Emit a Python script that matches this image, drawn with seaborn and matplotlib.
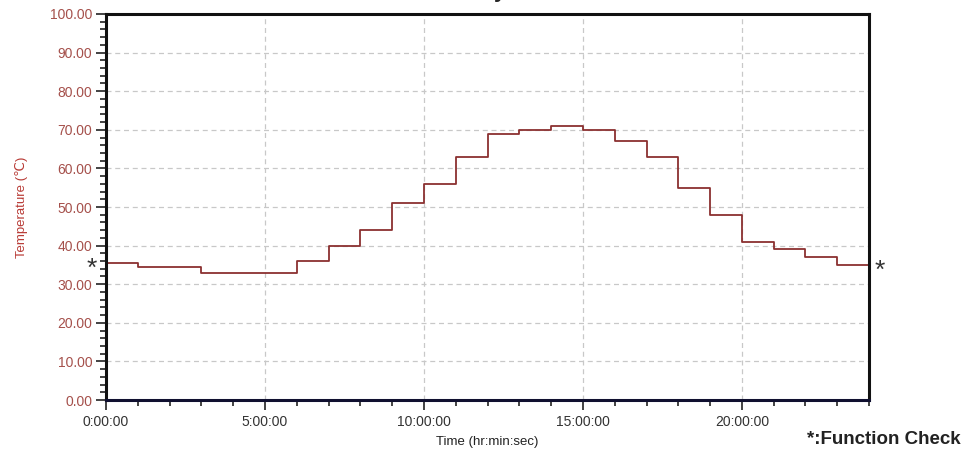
import pandas as pd
import seaborn as sns
from matplotlib import pyplot as plt
from matplotlib.ticker import MultipleLocator, FuncFormatter

# hourly set points (hr) and chamber temperature (C), last point repeats the final step
hours = list(range(25))
temps = [35.5, 34.5, 34.5, 33, 33, 33, 36, 40, 44, 51, 56, 63,
         69, 70, 71, 70, 67, 63, 55, 48, 41, 39, 37, 35, 35]
major_hours = [0, 5, 10, 15, 20]
major_labels = ['0:00:00', '5:00:00', '10:00:00', '15:00:00', '20:00:00']
check_hours = [0, 24]
check_temps = [35.5, 35]

sns.set_style('white')
plt.rcParams['font.family'] = ['Liberation Sans', 'DejaVu Sans']

df = pd.DataFrame({'Hour': hours, 'Temp': temps})

fig = plt.figure(figsize=(9.64, 4.51), dpi=100)
ax = fig.add_axes([0.110, 0.113, 0.7915, 0.856])

sns.lineplot(data=df, x='Hour', y='Temp', drawstyle='steps-post',
             color='#8b3030', linewidth=1.3, ax=ax)

ax.set_xlim(0, 24)
ax.set_ylim(0, 100)
ax.xaxis.set_major_locator(plt.FixedLocator(major_hours))
ax.set_xticklabels(major_labels)
ax.xaxis.set_minor_locator(MultipleLocator(1))
ax.yaxis.set_major_locator(MultipleLocator(10))
ax.yaxis.set_minor_locator(MultipleLocator(2))
ax.yaxis.set_major_formatter(FuncFormatter(lambda v, p: f'{v:.2f}'))

ax.tick_params(axis='both', which='major', direction='out', length=7, width=1.2,
               color='#222222', labelsize=10, bottom=True, left=True)
ax.tick_params(axis='both', which='minor', direction='out', length=4, width=1.2,
               color='#222222', bottom=True, left=True)
ax.tick_params(axis='y', labelcolor='#a5504b', pad=3)
ax.tick_params(axis='x', labelcolor='#333333', pad=4)

ax.grid(True, which='major', linestyle=(0, (4, 3)), color='#c8c8c8', linewidth=0.9)

for side in ['left', 'top', 'right']:
    ax.spines[side].set_color('#111111')
    ax.spines[side].set_linewidth(2.2)
ax.spines['bottom'].set_color('#101030')
ax.spines['bottom'].set_linewidth(2.2)

ax.set_xlabel('Time (hr:min:sec)', fontsize=9.5, color='#222222', labelpad=5)
ax.set_ylabel('Temperature (\u2103)', fontsize=9.5, color='#b83a35', labelpad=16)

# function check markers at start and end of the cycle
ax.annotate('*', (check_hours[0], check_temps[0]), xytext=(-10, -4.5),
            textcoords='offset points', fontsize=19, color='#333333',
            ha='center', va='center', annotation_clip=False)
ax.annotate('*', (check_hours[1], check_temps[1]), xytext=(8, -4.5),
            textcoords='offset points', fontsize=19, color='#333333',
            ha='center', va='center', annotation_clip=False)

fig.text(0.996, 0.025, '*:Function Check', fontsize=13.5, fontweight='bold',
         color='#222222', ha='right', va='center')

# clipped title descender at the very top
fig.text(0.519, 1.006, 'y', fontsize=16, fontweight='bold', ha='center', va='baseline')

fig.savefig('out.png', dpi=100)
